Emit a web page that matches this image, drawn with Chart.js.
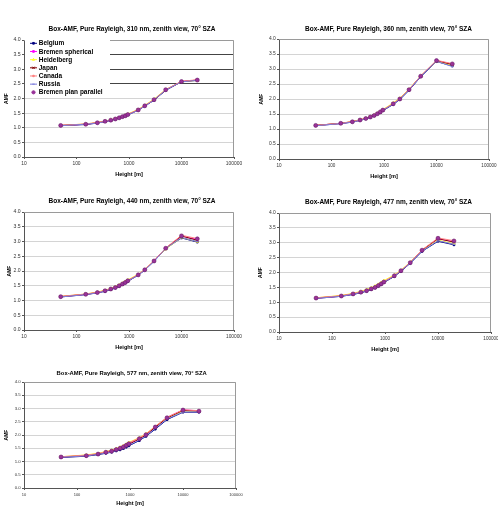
<!DOCTYPE html>
<html>
<head>
<meta charset="utf-8">
<script src="https://cdn.jsdelivr.net/npm/chart.js@4.4.1/dist/chart.umd.min.js"></script>
<style>
  html, body { margin: 0; padding: 0; background: #fff; width: 498px; height: 513px; overflow: hidden; }
  canvas { position: absolute; }
</style>
</head>
<body>
<canvas id="c310"></canvas>
<canvas id="c360"></canvas>
<canvas id="c440"></canvas>
<canvas id="c477"></canvas>
<canvas id="c577"></canvas>
<script>
// box heights [m]
const heights = [50, 150, 250, 350, 450, 550, 650, 750, 850, 950, 1500, 2000, 3000, 5000, 10000, 20000];
const seriesNames = ['Belgium', 'Bremen spherical', 'Heidelberg', 'Japan', 'Canada', 'Russia', 'Bremen plan parallel'];
const xTicks = [10, 100, 1000, 10000, 100000];
const wavelengths = [310, 360, 440, 477, 577];

// 310 nm
const belgium310    = [1.07, 1.11, 1.16, 1.21, 1.25, 1.29, 1.33, 1.37, 1.40, 1.44, 1.60, 1.74, 1.94, 2.28, 2.57, 2.62];
const spherical310  = [1.08, 1.12, 1.17, 1.22, 1.26, 1.30, 1.34, 1.38, 1.41, 1.45, 1.61, 1.75, 1.96, 2.30, 2.58, 2.63];
const heidelberg310 = [1.08, 1.13, 1.18, 1.23, 1.27, 1.31, 1.35, 1.39, 1.43, 1.47, 1.63, 1.77, 1.98, 2.31, 2.57, 2.62];
const japan310      = [1.08, 1.12, 1.17, 1.22, 1.26, 1.30, 1.34, 1.37, 1.41, 1.45, 1.61, 1.75, 1.95, 2.29, 2.58, 2.63];
const canada310     = [1.08, 1.13, 1.18, 1.22, 1.27, 1.31, 1.35, 1.38, 1.42, 1.46, 1.62, 1.76, 1.96, 2.30, 2.59, 2.64];
const russia310     = [1.07, 1.12, 1.16, 1.21, 1.25, 1.30, 1.33, 1.37, 1.41, 1.44, 1.60, 1.74, 1.95, 2.29, 2.57, 2.62];
const planPar310    = [1.08, 1.12, 1.17, 1.22, 1.26, 1.30, 1.34, 1.38, 1.41, 1.45, 1.61, 1.75, 1.96, 2.30, 2.58, 2.63];

// 360 nm
const belgium360    = [1.11, 1.18, 1.23, 1.29, 1.34, 1.39, 1.44, 1.50, 1.55, 1.61, 1.82, 1.98, 2.29, 2.74, 3.25, 3.10];
const spherical360  = [1.12, 1.19, 1.24, 1.30, 1.35, 1.40, 1.45, 1.51, 1.57, 1.63, 1.84, 2.00, 2.31, 2.76, 3.28, 3.16];
const heidelberg360 = [1.12, 1.19, 1.25, 1.31, 1.36, 1.42, 1.47, 1.53, 1.59, 1.65, 1.87, 2.03, 2.33, 2.77, 3.26, 3.12];
const japan360      = [1.12, 1.19, 1.24, 1.30, 1.35, 1.40, 1.45, 1.51, 1.56, 1.62, 1.84, 2.00, 2.31, 2.76, 3.28, 3.15];
const canada360     = [1.12, 1.19, 1.25, 1.30, 1.36, 1.41, 1.46, 1.52, 1.58, 1.64, 1.85, 2.01, 2.32, 2.77, 3.29, 3.18];
const russia360     = [1.11, 1.18, 1.23, 1.29, 1.34, 1.39, 1.44, 1.50, 1.56, 1.62, 1.83, 1.99, 2.30, 2.75, 3.26, 3.08];
const planPar360    = [1.12, 1.19, 1.24, 1.30, 1.35, 1.40, 1.45, 1.51, 1.57, 1.63, 1.84, 2.00, 2.31, 2.76, 3.28, 3.17];

// 440 nm
const belgium440    = [1.12, 1.20, 1.26, 1.31, 1.37, 1.42, 1.48, 1.54, 1.59, 1.65, 1.86, 2.03, 2.33, 2.76, 3.12, 2.98];
const spherical440  = [1.13, 1.21, 1.27, 1.33, 1.39, 1.44, 1.50, 1.56, 1.62, 1.67, 1.87, 2.04, 2.34, 2.77, 3.18, 3.07];
const heidelberg440 = [1.14, 1.22, 1.29, 1.35, 1.41, 1.47, 1.53, 1.59, 1.65, 1.70, 1.89, 2.05, 2.34, 2.74, 3.14, 3.00];
const japan440      = [1.13, 1.21, 1.27, 1.33, 1.38, 1.44, 1.50, 1.55, 1.61, 1.67, 1.87, 2.04, 2.34, 2.77, 3.19, 3.04];
const canada440     = [1.14, 1.22, 1.28, 1.34, 1.40, 1.45, 1.51, 1.57, 1.63, 1.68, 1.88, 2.05, 2.35, 2.78, 3.21, 3.10];
const russia440     = [1.12, 1.20, 1.26, 1.32, 1.38, 1.43, 1.49, 1.55, 1.60, 1.66, 1.86, 2.03, 2.33, 2.76, 3.14, 3.00];
const planPar440    = [1.13, 1.21, 1.27, 1.33, 1.39, 1.44, 1.50, 1.56, 1.61, 1.67, 1.87, 2.04, 2.34, 2.77, 3.19, 3.09];

// 477 nm
const belgium477    = [1.13, 1.20, 1.26, 1.32, 1.37, 1.43, 1.48, 1.54, 1.60, 1.66, 1.87, 2.04, 2.31, 2.71, 3.05, 2.93];
const spherical477  = [1.14, 1.21, 1.28, 1.34, 1.39, 1.45, 1.50, 1.56, 1.62, 1.68, 1.89, 2.06, 2.33, 2.75, 3.13, 3.04];
const heidelberg477 = [1.15, 1.23, 1.30, 1.37, 1.43, 1.49, 1.55, 1.61, 1.67, 1.73, 1.92, 2.08, 2.35, 2.74, 3.09, 2.97];
const japan477      = [1.14, 1.21, 1.28, 1.33, 1.39, 1.44, 1.50, 1.56, 1.61, 1.67, 1.88, 2.05, 2.33, 2.75, 3.14, 3.02];
const canada477     = [1.15, 1.22, 1.29, 1.35, 1.40, 1.46, 1.52, 1.58, 1.64, 1.70, 1.90, 2.07, 2.34, 2.76, 3.16, 3.07];
const russia477     = [1.13, 1.20, 1.27, 1.33, 1.38, 1.44, 1.49, 1.55, 1.61, 1.67, 1.88, 2.05, 2.32, 2.72, 3.07, 2.95];
const planPar477    = [1.14, 1.21, 1.28, 1.34, 1.39, 1.45, 1.50, 1.56, 1.62, 1.68, 1.89, 2.06, 2.33, 2.75, 3.15, 3.06];

// 577 nm
const belgium577    = [1.15, 1.20, 1.26, 1.31, 1.35, 1.40, 1.44, 1.49, 1.54, 1.59, 1.79, 1.95, 2.22, 2.58, 2.86, 2.86];
const spherical577  = [1.17, 1.23, 1.29, 1.36, 1.40, 1.46, 1.51, 1.57, 1.62, 1.68, 1.87, 2.02, 2.31, 2.66, 2.95, 2.91];
const heidelberg577 = [1.18, 1.25, 1.31, 1.38, 1.43, 1.49, 1.55, 1.60, 1.66, 1.72, 1.90, 2.05, 2.32, 2.65, 2.90, 2.90];
const japan577      = [1.17, 1.22, 1.28, 1.34, 1.38, 1.44, 1.49, 1.54, 1.60, 1.65, 1.85, 2.00, 2.29, 2.64, 2.93, 2.90];
const canada577     = [1.18, 1.24, 1.30, 1.37, 1.42, 1.47, 1.53, 1.59, 1.64, 1.70, 1.89, 2.04, 2.33, 2.67, 2.95, 2.92];
const russia577     = [1.16, 1.21, 1.27, 1.32, 1.36, 1.41, 1.46, 1.51, 1.56, 1.61, 1.81, 1.97, 2.25, 2.60, 2.87, 2.87];
const planPar577    = [1.17, 1.22, 1.28, 1.35, 1.39, 1.45, 1.50, 1.55, 1.61, 1.67, 1.86, 2.01, 2.30, 2.65, 2.94, 2.90];

const amfByWl = {
  310: [belgium310, spherical310, heidelberg310, japan310, canada310, russia310, planPar310],
  360: [belgium360, spherical360, heidelberg360, japan360, canada360, russia360, planPar360],
  440: [belgium440, spherical440, heidelberg440, japan440, canada440, russia440, planPar440],
  477: [belgium477, spherical477, heidelberg477, japan477, canada477, russia477, planPar477],
  577: [belgium577, spherical577, heidelberg577, japan577, canada577, russia577, planPar577]
};

// line / marker look of each model
const styles = [
  { color: '#000080', pointStyle: 'rect', pointRadius: 1.2 },
  { color: '#ff00ff', pointStyle: 'rect', pointRadius: 1.2 },
  { color: '#ffff33', pointStyle: 'triangle', pointRadius: 1.3 },
  { color: '#800000', pointStyle: 'crossRot', pointRadius: 1.6 },
  { color: '#ff8080', pointStyle: 'rect', pointRadius: 1.0 },
  { color: '#7b7bdc', pointStyle: 'line', pointRadius: 1.2 },
  { color: '#993399', pointStyle: 'circle', pointRadius: 2, noLine: true }
];

// panel placement in the page
const panels = [
  { wl: 310, left: 0,   top: 0,   w: 249, h: 180, L: 24, R: 234, T: 40, B: 157, titleX: 132,   titleY: 29, xTitleY: 174, amfX: 7,  titleSize: 6.5, tickSize: 4.9, legend: true },
  { wl: 360, left: 249, top: 0,   w: 249, h: 180, L: 30, R: 240, T: 39, B: 159, titleX: 139.5, titleY: 29, xTitleY: 176, amfX: 13, titleSize: 6.5, tickSize: 4.6 },
  { wl: 440, left: 0,   top: 175, w: 249, h: 178, L: 24, R: 234, T: 37, B: 155, titleX: 132,   titleY: 26, xTitleY: 172, amfX: 10, titleSize: 6.5, tickSize: 4.8 },
  { wl: 477, left: 249, top: 175, w: 249, h: 178, L: 30, R: 242, T: 38, B: 157, titleX: 139.5, titleY: 27, xTitleY: 174, amfX: 12, titleSize: 6.5, tickSize: 4.6 },
  { wl: 577, left: 0,   top: 345, w: 249, h: 168, L: 24, R: 236, T: 37, B: 143, titleX: 131.7, titleY: 28, xTitleY: 158, amfX: 7,  titleSize: 5.85, tickSize: 4.0 }
];

const FONT = '"Liberation Sans", Arial, sans-serif';

const panelDecor = {
  id: 'panelDecor',
  beforeDatasetsDraw(chart, args, opts) {
    const { ctx, chartArea: a } = chart;
    ctx.save();
    ctx.strokeStyle = '#9a9a9a';
    ctx.lineWidth = 1;
    ctx.beginPath();
    ctx.moveTo(a.left, a.top + 0.5);
    ctx.lineTo(a.right - 0.5, a.top + 0.5);
    ctx.lineTo(a.right - 0.5, a.bottom);
    ctx.stroke();
    ctx.restore();
  },
  afterDatasetsDraw(chart, args, opts) {
    const p = opts.panel;
    if (!p.legend) return;
    const ctx = chart.ctx;
    ctx.save();
    ctx.fillStyle = '#fff';
    ctx.fillRect(p.L + 1, p.T, 85, 57);
    ctx.font = 'bold 6.5px ' + FONT;
    ctx.textBaseline = 'middle';
    chart.data.datasets.forEach((ds, i) => {
      const y = p.T + 3.3 + i * 8.17;
      const st = styles[i];
      ctx.strokeStyle = st.color;
      ctx.fillStyle = st.color;
      ctx.lineWidth = 1;
      if (!st.noLine) {
        ctx.beginPath();
        ctx.moveTo(p.L + 6, y);
        ctx.lineTo(p.L + 13, y);
        ctx.stroke();
      }
      Chart.helpers.drawPoint(ctx, {
        pointStyle: st.pointStyle, radius: st.noLine ? 1.6 : st.pointRadius, rotation: 0, borderWidth: 1
      }, p.L + 9.5, y);
      ctx.fillStyle = '#000';
      ctx.fillText(ds.label, p.L + 14.7, y + 0.3);
    });
    ctx.restore();
  },
  afterDraw(chart, args, opts) {
    const p = opts.panel;
    const ctx = chart.ctx;
    ctx.save();
    ctx.fillStyle = '#000';
    ctx.font = 'bold ' + p.titleSize + 'px ' + FONT;
    ctx.textAlign = 'center';
    ctx.textBaseline = 'middle';
    ctx.fillText('Box-AMF, Pure Rayleigh, ' + p.wl + ' nm, zenith view, 70° SZA', p.titleX, p.titleY);
    ctx.restore();
  }
};

function makeChart(p) {
  const cv = document.getElementById('c' + p.wl);
  cv.style.left = p.left + 'px';
  cv.style.top = p.top + 'px';
  cv.width = p.w;
  cv.height = p.h;
  cv.style.width = p.w + 'px';
  cv.style.height = p.h + 'px';

  const datasets = amfByWl[p.wl].map((vals, i) => {
    const st = styles[i];
    return {
      label: seriesNames[i],
      data: heights.map((h, k) => ({ x: h, y: vals[k] })),
      borderColor: st.noLine ? '#6a1f6a' : st.color,
      backgroundColor: st.color,
      borderWidth: 1,
      showLine: !st.noLine,
      pointStyle: st.pointStyle,
      pointRadius: st.pointRadius,
      pointBorderWidth: st.noLine ? 0.6 : 1,
      tension: 0,
      order: st.noLine ? -1 : 6 - i
    };
  });

  const xTitleSize = 5.6, amfSize = 5;
  return new Chart(cv, {
    type: 'line',
    data: { datasets },
    options: {
      responsive: false,
      animation: false,
      devicePixelRatio: 1,
      layout: { padding: { left: 0, top: p.T, right: p.w - p.R, bottom: 0 } },
      plugins: {
        legend: { display: false },
        tooltip: { enabled: false },
        panelDecor: { panel: p }
      },
      scales: {
        x: {
          type: 'logarithmic',
          min: 10,
          max: 100000,
          afterBuildTicks: s => { s.ticks = xTicks.map(v => ({ value: v })); },
          afterFit: s => { s.height = p.h - p.B; s.paddingLeft = 0; s.paddingRight = 0; },
          ticks: {
            callback: v => String(v),
            autoSkip: false,
            maxRotation: 0,
            padding: 2,
            color: '#333',
            font: { family: FONT, size: p.tickSize }
          },
          grid: { drawOnChartArea: false, drawTicks: true, tickLength: 2, tickColor: '#555' },
          border: { color: '#555', width: 1 },
          title: {
            display: true,
            text: 'Height [m]',
            color: '#000',
            font: { family: FONT, size: xTitleSize, weight: 'bold' },
            padding: { top: 0, bottom: p.h - p.xTitleY - xTitleSize * 0.6 }
          }
        },
        y: {
          min: 0,
          max: 4,
          afterFit: s => { s.width = p.L; s.paddingTop = 0; s.paddingBottom = 0; },
          ticks: {
            stepSize: 0.5,
            callback: v => Number(v).toFixed(1),
            padding: 1.3,
            color: '#333',
            font: { family: FONT, size: p.tickSize + 0.3 }
          },
          grid: {
            color: c => (p.legend && c.tick && c.tick.value >= 2.5 && c.tick.value < 4) ? '#444' : '#d4d4d4',
            lineWidth: 1,
            drawTicks: true,
            tickLength: 2,
            tickColor: '#555'
          },
          border: { color: '#555', width: 1 },
          title: {
            display: true,
            text: 'AMF',
            color: '#000',
            font: { family: FONT, size: amfSize, weight: 'bold' },
            padding: { top: p.amfX - amfSize * 0.6, bottom: 0 }
          }
        }
      }
    },
    plugins: [panelDecor]
  });
}

panels.forEach(makeChart);
</script>
</body>
</html>
